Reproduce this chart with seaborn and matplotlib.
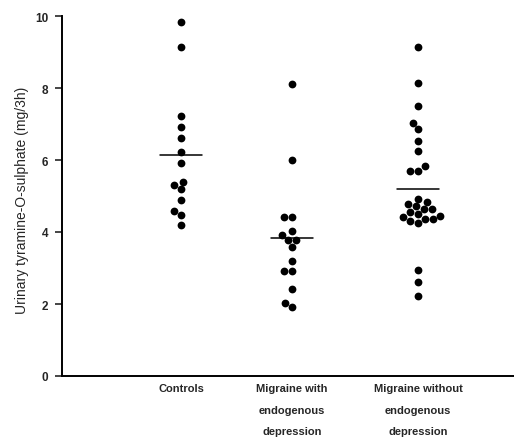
import numpy as np
import pandas as pd
import matplotlib
matplotlib.use("Agg")
import matplotlib.pyplot as plt
import seaborn as sns

# values (mg/3h)
controls = [9.82, 9.13, 7.23, 6.93, 6.60, 6.21, 5.91, 5.40, 5.31, 5.19,
            4.90, 4.59, 4.47, 4.19]
with_depr = [8.11, 6.01, 4.41, 4.41, 4.02, 3.92, 3.78, 3.78, 3.59, 3.19,
             2.91, 2.91, 2.42, 2.02, 1.91]
without_depr = [9.13, 8.13, 7.51, 7.04, 6.86, 6.52, 6.24, 5.82, 5.70, 5.70,
                4.92, 4.84, 4.78, 4.71, 4.64, 4.64, 4.55, 4.50, 4.45, 4.41,
                4.36, 4.36, 4.31, 4.24, 2.95, 2.60, 2.23]

group_labels = ["Controls",
                "Migraine with\nendogenous\ndepression",
                "Migraine without\nendogenous\ndepression"]
yticks = [0, 2, 4, 6, 8, 10]

# horizontal placement of the three columns (layout, not data)
xpos = [0.0, 1.0, 2.135]

rows = []
for pos, vals in zip(xpos, [controls, with_depr, without_depr]):
    for v in vals:
        rows.append({"pos": pos, "value": v})
df = pd.DataFrame(rows)

sns.set_style("ticks")
plt.rcParams["font.family"] = ["Liberation Sans", "DejaVu Sans"]

fig = plt.figure(figsize=(5.14, 4.39), dpi=100)
ax = fig.add_axes([62 / 514, 62 / 439, 452 / 514, 360 / 439])

sns.swarmplot(data=df, x="pos", y="value", native_scale=True, color="black",
              size=5.6, ax=ax, linewidth=0)

# group means
for pos, vals in zip(xpos, [controls, with_depr, without_depr]):
    m = np.mean(vals)
    ax.plot([pos - 0.19, pos + 0.19], [m, m], color="black", lw=1.1)

ax.set_xlim(-1.072, 3.0)
ax.set_ylim(0, 10)
ax.set_yticks(yticks)
ax.set_yticklabels([str(t) for t in yticks], fontsize=8.5, fontweight="bold")
ax.set_xticks(xpos)
ax.set_xticklabels(group_labels, fontsize=8, fontweight="bold", linespacing=2.45,
                   va="top")
ax.tick_params(axis="x", length=0, pad=5)
ax.tick_params(axis="y", length=5, width=1.2, pad=5, direction="out")
ax.set_xlabel("")
ax.set_ylabel("Urinary tyramine-O-sulphate (mg/3h)", fontsize=10)
ax.yaxis.set_label_coords(-0.073, 0.49)

sns.despine(ax=ax, top=True, right=True)
for sp in ["left", "bottom"]:
    ax.spines[sp].set_linewidth(1.4)
    ax.spines[sp].set_color("black")

fig.savefig("out.png", dpi=100)
